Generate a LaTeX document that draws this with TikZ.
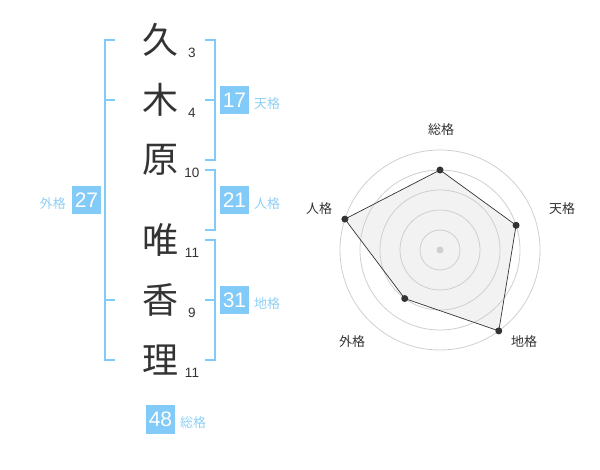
\documentclass[tikz,border=0pt]{standalone}
\usepackage{fontspec}
\setmainfont{Liberation Sans}
\newfontfamily\cjk{Noto Sans CJK JP}
\usepackage{xcolor}
\usetikzlibrary{positioning}
\definecolor{kakublue}{HTML}{82CAF8}
\definecolor{kakulabel}{HTML}{8ECFF5}
\definecolor{inkgray}{HTML}{333333}
\definecolor{ringgray}{HTML}{CFCFCF}
\definecolor{areagray}{HTML}{F2F2F2}

\begin{document}
\begin{tikzpicture}[x=1pt, y=-1pt,
  kanji/.style={font=\cjk\fontsize{36}{36}\selectfont, text=inkgray, inner sep=0pt},
  strokes/.style={font=\fontsize{13.5}{14}\selectfont, text=inkgray, inner sep=0pt},
  bracket/.style={kakublue, line width=2pt},
  score/.style={fill=kakublue, text=white, minimum size=28.5pt, inner sep=0pt,
    font=\fontsize{21}{21}\selectfont},
  kakuname/.style={text=kakulabel, font=\cjk\fontsize{13}{13}\selectfont, inner sep=0pt},
  axisname/.style={text=inkgray, font=\cjk\fontsize{13}{13}\selectfont, inner sep=0pt}]
  \useasboundingbox (0,0) rectangle (600,470);

  % Characters of the name with their stroke counts
  \foreach \ch/\n/\y [count=\i] in {久/3/40, 木/4/100, 原/10/160, 唯/11/240, 香/9/300, 理/11/360} {
    \node[kanji] (c\i) at (160,\y) {\ch};
    \node[strokes] (n\i) at (192,\y+13) {\n};
  }

  % Brackets grouping the characters
  \draw[bracket] (115,40) -- (105,40) -- (105,360) -- (115,360);
  \foreach \y in {100,300} \draw[bracket] (105,\y) -- (115,\y);
  \draw[bracket] (205,40) -- (215,40) -- (215,160) -- (205,160);
  \draw[bracket] (205,100) -- (215,100);
  \draw[bracket] (205,170) -- (215,170) -- (215,230) -- (205,230);
  \draw[bracket] (205,240) -- (215,240) -- (215,360) -- (205,360);
  \draw[bracket] (205,300) -- (215,300);

  % Scores and their names
  \node[score] (ten) at (234.5,100) {17};
  \node[kakuname, right=5pt of ten, yshift=-4pt] (tenl) {天格};
  \node[score] (jin) at (234.5,200) {21};
  \node[kakuname, right=5pt of jin, yshift=-4pt] (jinl) {人格};
  \node[score] (chi) at (234.5,300) {31};
  \node[kakuname, right=5pt of chi, yshift=-4pt] (chil) {地格};
  \node[score] (gai) at (86.5,200) {27};
  \node[kakuname, left=6pt of gai, yshift=-4pt] (gail) {外格};
  \node[score] (sou) at (160.5,419.5) {48};
  \node[kakuname, right=5pt of sou, yshift=-3pt] (soul) {総格};

  % Radar chart
  \begin{scope}[shift={(440,250)}, x=1pt, y=1pt]
    \foreach \a/\r [count=\i] in {90/80, 18/80, -54/100, -126/60, 162/100}
      \coordinate (p\i) at (\a:\r);
    \fill[areagray] (p1) -- (p2) -- (p3) -- (p4) -- (p5) -- cycle;
    \foreach \r in {20,40,60,80,100}
      \draw[ringgray, line width=0.8pt] (0,0) circle (\r);
    \fill[ringgray] (0,0) circle (3.5);
    \draw[inkgray, line width=0.7pt] (p1) -- (p2) -- (p3) -- (p4) -- (p5) -- cycle;
    \foreach \i in {1,...,5}
      \fill[inkgray] (p\i) circle (3.5);
    \foreach \x/\y/\t [count=\i] in {1/120/総格, 122/41/天格, 84/-92/地格, -88/-92/外格, -121/41/人格}
      \node[axisname] (ax\i) at (\x,\y) {\t};
  \end{scope}

\end{tikzpicture}
\end{document}
